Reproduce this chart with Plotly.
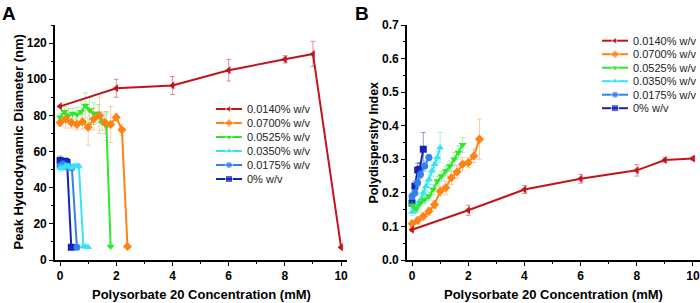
import plotly.graph_objects as go

# ---------------- data ----------------
series_names = ["0.0140% w/v", "0.0700% w/v", "0.0525% w/v", "0.0350% w/v", "0.0175% w/v", "0% w/v"]
colors = ["#C1141C", "#FF8214", "#2EE62E", "#36E3F5", "#2F80F0", "#1424B4"]
err_colors = ["rgba(193,20,28,0.45)", "rgba(255,130,20,0.4)", "rgba(46,230,46,0.4)",
              "rgba(54,227,245,0.45)", "rgba(47,128,240,0.45)", "rgba(20,36,180,0.45)"]
symbols = ["triangle-left", "diamond", "triangle-down", "triangle-up", "circle", "square"]

# Panel A: peak hydrodynamic diameter (nm)
a_x_red = [0, 2, 4, 6, 8, 9, 10]
a_y_red = [85, 95, 96.5, 105, 111, 114, 7]
a_e_red = [0.5, 5, 5, 6, 2, 7, 0.5]

a_x_orange = [0, 0.2, 0.4, 0.6, 0.8, 1.0, 1.2, 1.4, 1.6, 1.8, 2.0, 2.2, 2.4]
a_y_orange = [76, 78, 76, 75, 76.5, 73.5, 78, 80, 76, 75, 79, 72, 7.5]
a_e_orange = [2, 5, 3, 3, 4, 10, 6, 10, 6, 10, 2, 3, 0.5]

a_x_green = [0, 0.15, 0.3, 0.45, 0.6, 0.75, 0.9, 1.05, 1.2, 1.35, 1.5, 1.65, 1.8]
a_y_green = [79, 82, 80, 81, 80.5, 82, 85.5, 83, 81, 81, 76, 74, 7.5]
a_e_green = [2, 3, 4, 3, 4, 6, 7, 7, 6, 5, 4, 8, 0.5]

a_x_cyan = [0, 0.1, 0.2, 0.3, 0.4, 0.5, 0.6, 0.67, 0.83, 0.92, 1.0]
a_y_cyan = [51, 51, 52, 52, 51, 52, 52, 52, 7.5, 7.5, 7]
a_e_cyan = [2, 1.5, 1.5, 1, 1, 1, 1, 1, 0.5, 0.5, 0.5]

a_x_blue = [0, 0.1, 0.2, 0.3, 0.42, 0.6]
a_y_blue = [52, 53, 52, 51.5, 51, 7]
a_e_blue = [2, 2, 2, 1, 1, 0.5]

a_x_navy = [0, 0.1, 0.2, 0.25, 0.4]
a_y_navy = [55, 53, 54.5, 54, 7]
a_e_navy = [2.5, 2.5, 2, 1.5, 0.5]

# Panel B: polydispersity index
b_x_red = [0, 2, 4, 6, 8, 9, 10]
b_y_red = [0.09, 0.148, 0.21, 0.242, 0.267, 0.298, 0.302]
b_e_red = [0.005, 0.015, 0.012, 0.013, 0.017, 0.007, 0.005]

b_x_orange = [0, 0.2, 0.4, 0.6, 0.8, 1.0, 1.2, 1.4, 1.6, 1.8, 2.0, 2.2, 2.4]
b_y_orange = [0.108, 0.118, 0.13, 0.145, 0.165, 0.205, 0.215, 0.245, 0.262, 0.285, 0.29, 0.31, 0.36]
b_e_orange = [0.01, 0.01, 0.01, 0.012, 0.012, 0.015, 0.02, 0.02, 0.02, 0.02, 0.015, 0.02, 0.06]

b_x_green = [0, 0.15, 0.3, 0.45, 0.6, 0.75, 0.9, 1.05, 1.2, 1.35, 1.5, 1.65, 1.8]
b_y_green = [0.163, 0.152, 0.17, 0.18, 0.19, 0.21, 0.235, 0.25, 0.265, 0.28, 0.3, 0.32, 0.343]
b_e_green = [0.01, 0.01, 0.01, 0.012, 0.012, 0.015, 0.015, 0.015, 0.015, 0.015, 0.02, 0.02, 0.022]

b_x_cyan = [0, 0.1, 0.2, 0.3, 0.4, 0.5, 0.6, 0.7, 0.8, 0.9, 1.0]
b_y_cyan = [0.143, 0.15, 0.165, 0.178, 0.2, 0.22, 0.24, 0.265, 0.285, 0.305, 0.335]
b_e_cyan = [0.01, 0.01, 0.01, 0.012, 0.012, 0.015, 0.015, 0.015, 0.02, 0.02, 0.045]

b_x_blue = [0, 0.1, 0.2, 0.3, 0.45, 0.6]
b_y_blue = [0.19, 0.2, 0.23, 0.255, 0.28, 0.305]
b_e_blue = [0.01, 0.01, 0.012, 0.012, 0.015, 0.01]

b_x_navy = [0, 0.1, 0.2, 0.27, 0.4]
b_y_navy = [0.17, 0.22, 0.268, 0.27, 0.33]
b_e_navy = [0.01, 0.015, 0.02, 0.02, 0.05]

panel_a = [(a_x_red, a_y_red, a_e_red), (a_x_orange, a_y_orange, a_e_orange),
           (a_x_green, a_y_green, a_e_green), (a_x_cyan, a_y_cyan, a_e_cyan),
           (a_x_blue, a_y_blue, a_e_blue), (a_x_navy, a_y_navy, a_e_navy)]
panel_b = [(b_x_red, b_y_red, b_e_red), (b_x_orange, b_y_orange, b_e_orange),
           (b_x_green, b_y_green, b_e_green), (b_x_cyan, b_y_cyan, b_e_cyan),
           (b_x_blue, b_y_blue, b_e_blue), (b_x_navy, b_y_navy, b_e_navy)]

x_title = "Polysorbate 20 Concentration (mM)"
ya_title = "Peak Hydrodynamic Diameter (nm)"
yb_title = "Polydispersity Index"

# ---------------- layout geometry (pixels) ----------------
W, H = 700, 303
FONT = "Liberation Sans, Arial, sans-serif"

fig = go.Figure()

def add_panel(data, xa, ya):
    for i in reversed(range(len(data))):
        xs, ys, es = data[i]
        fig.add_trace(go.Scatter(
            x=xs, y=ys, mode="lines+markers", xaxis=xa, yaxis=ya,
            line=dict(color=colors[i], width=2),
            marker=dict(symbol=symbols[i], size=7, color=colors[i]),
            error_y=dict(type="data", array=es, visible=True, color=err_colors[i],
                         thickness=1, width=2.5),
            showlegend=False, hoverinfo="skip"))

add_panel(panel_a, "x", "y")
add_panel(panel_b, "x2", "y2")

# manual legends (overlay pixel axis x3/y3)
leg_a = dict(x0=216, x1=242, tx=245, rows=[109, 123, 137, 151, 165, 179])
leg_b = dict(x0=602, x1=628, tx=631, rows=[40.7, 54.2, 67.7, 81.2, 94.7, 108.2])
annotations = []
for leg in (leg_a, leg_b):
    for i, name in enumerate(series_names):
        yy = leg["rows"][i]
        fig.add_trace(go.Scatter(
            x=[leg["x0"], (leg["x0"] + leg["x1"]) / 2, leg["x1"]], y=[yy, yy, yy],
            mode="lines+markers", xaxis="x3", yaxis="y3",
            line=dict(color=colors[i], width=2),
            marker=dict(symbol=symbols[i], size=[0, 7, 0], color=colors[i]),
            showlegend=False, hoverinfo="skip"))
        annotations.append(dict(x=leg["tx"], y=yy, xref="x3", yref="y3", text=name,
                                showarrow=False, xanchor="left", yanchor="middle",
                                font=dict(family=FONT, size=11, color="#222")))

# titles and panel labels
annotations += [
    dict(x=201, y=294, xref="x3", yref="y3", text=x_title, showarrow=False,
         font=dict(family=FONT, size=13, color="black", weight="bold")),
    dict(x=553, y=294, xref="x3", yref="y3", text=x_title, showarrow=False,
         font=dict(family=FONT, size=13, color="black", weight="bold")),
    dict(x=18, y=142.5, xref="x3", yref="y3", text=ya_title, showarrow=False, textangle=-90,
         font=dict(family=FONT, size=13, color="black", weight="bold")),
    dict(x=373, y=142.5, xref="x3", yref="y3", text=yb_title, showarrow=False, textangle=-90,
         font=dict(family=FONT, size=12.5, color="black", weight="bold")),
    dict(x=9, y=13, xref="x3", yref="y3", text="A", showarrow=False,
         font=dict(family=FONT, size=19, color="black", weight="bold")),
    dict(x=362, y=13, xref="x3", yref="y3", text="B", showarrow=False,
         font=dict(family=FONT, size=19, color="black", weight="bold")),
]

tickfont = dict(family=FONT, size=12, color="black", weight="bold")
common = dict(showline=True, linecolor="black", linewidth=1.7, showgrid=False, zeroline=False,
              ticks="outside", ticklen=4, tickwidth=1.2, tickcolor="black", tickfont=tickfont,
              automargin=False, fixedrange=True)

y_bot = (H - 260) / H
y_top = (H - 25) / H

fig.update_layout(
    width=W, height=H, margin=dict(l=0, r=0, t=0, b=0),
    paper_bgcolor="white", plot_bgcolor="rgba(0,0,0,0)",
    xaxis=dict(domain=[55 / W, 346.7 / W], range=[-0.18, 10.2], anchor="y",
               tickvals=[0, 2, 4, 6, 8, 10],
               minor=dict(ticks="outside", ticklen=2.5, dtick=1, tick0=0, tickcolor="black"), **common),
    yaxis=dict(domain=[y_bot, y_top], range=[0, 130], anchor="x",
               tickvals=[0, 20, 40, 60, 80, 100, 120],
               minor=dict(ticks="outside", ticklen=2.5, dtick=10, tick0=0, tickcolor="black"), **common),
    xaxis2=dict(domain=[407 / W, 1], range=[-0.18, 10.25], anchor="y2",
                tickvals=[0, 2, 4, 6, 8, 10],
                minor=dict(ticks="outside", ticklen=2.5, dtick=1, tick0=0, tickcolor="black"), **common),
    yaxis2=dict(domain=[y_bot, y_top], range=[0, 0.7], anchor="x2",
                tickvals=[0, 0.1, 0.2, 0.3, 0.4, 0.5, 0.6, 0.7], tickformat=".1f",
                minor=dict(ticks="outside", ticklen=2.5, dtick=0.05, tick0=0, tickcolor="black"), **common),
    xaxis3=dict(domain=[0, 1], range=[0, W], visible=False, anchor="y3", fixedrange=True),
    yaxis3=dict(domain=[0, 1], range=[H, 0], visible=False, anchor="x3", fixedrange=True),
    annotations=annotations,
    showlegend=False,
)

fig.write_html("out.html", config={"displayModeBar": False},
               post_script="document.body.style.margin='0';document.body.style.padding='0';"
                           "document.body.style.overflow='hidden';")
